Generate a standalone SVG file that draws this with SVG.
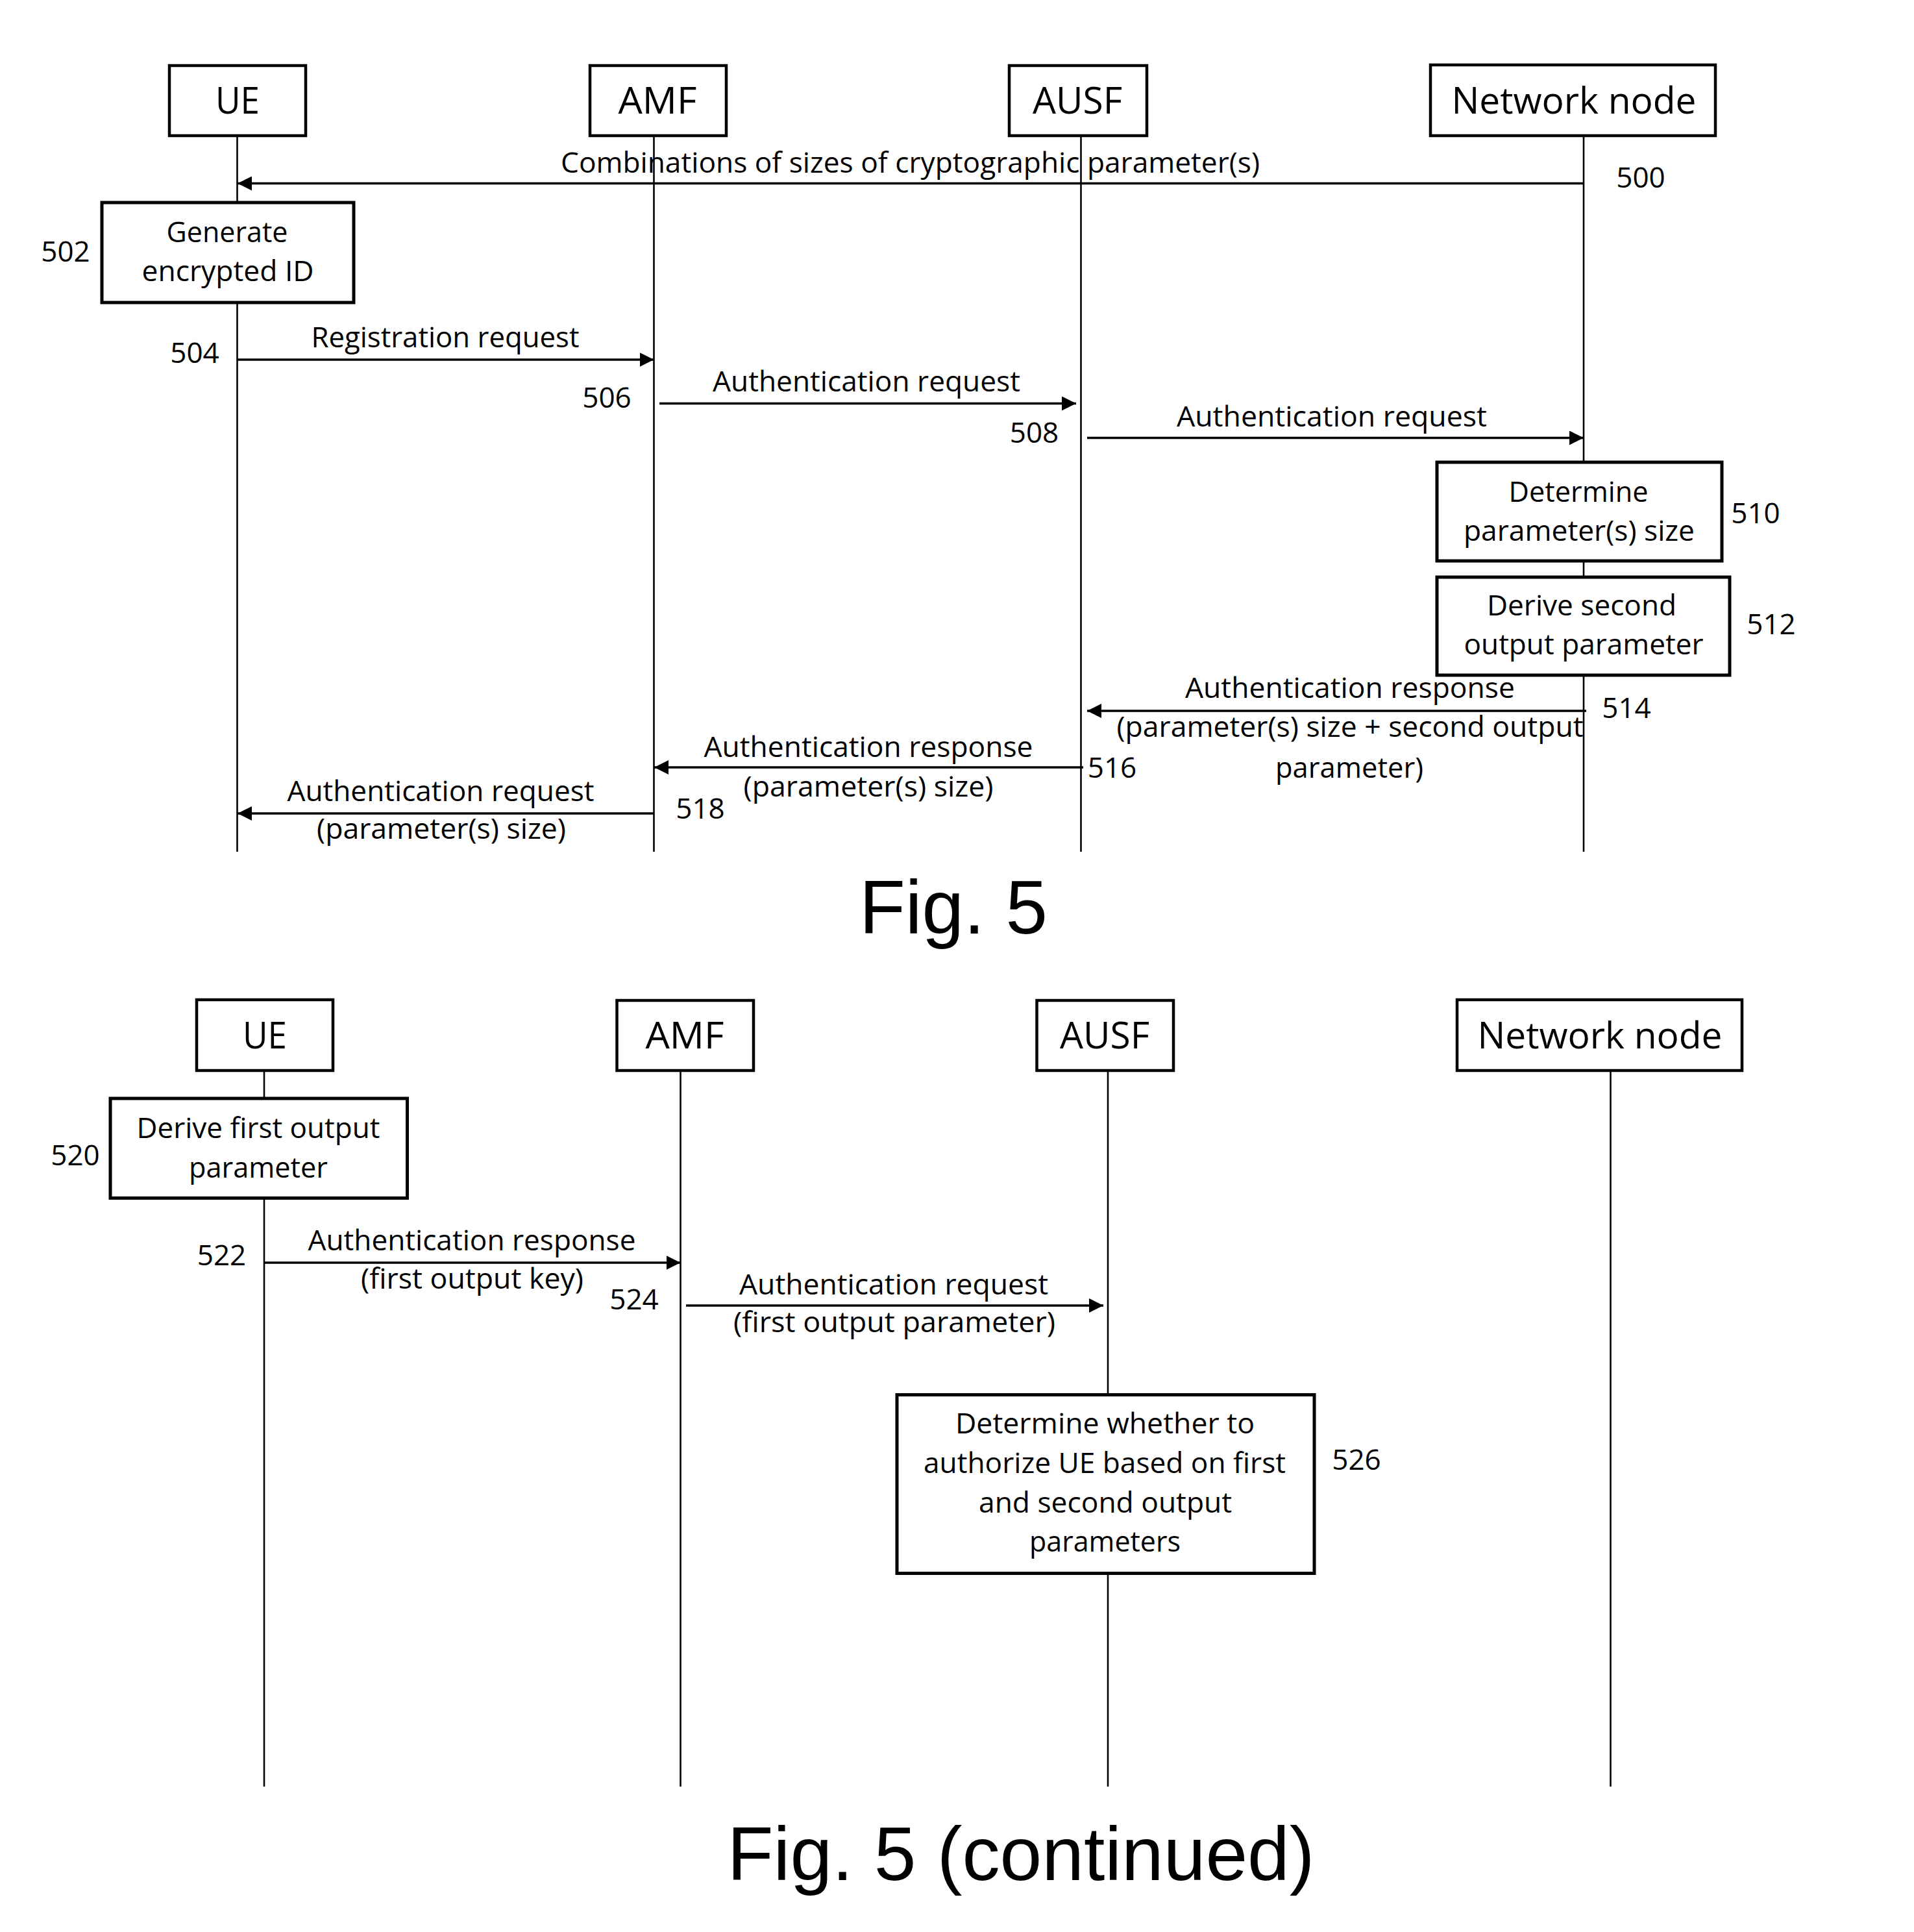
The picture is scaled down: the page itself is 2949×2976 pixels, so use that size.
<svg xmlns="http://www.w3.org/2000/svg" width="2949" height="2976" viewBox="0 0 2949 2976">
<style>
.bg{fill:#fff}
.life{stroke:#000;stroke-width:2.6;fill:none}
.head{fill:#fff;stroke:#000;stroke-width:4.5}
.act{fill:#fff;stroke:#000;stroke-width:5}
.msg{stroke:#000;stroke-width:3.5;fill:none;marker-end:url(#ah)}
.t{font-family:"Open Sans","Noto Sans","Liberation Sans",sans-serif;font-size:44px;fill:#000;text-anchor:middle}
.h{font-family:"Open Sans","Noto Sans","Liberation Sans",sans-serif;font-size:56px;fill:#000;text-anchor:middle}
.n{font-family:"Open Sans","Noto Sans","Liberation Sans",sans-serif;font-size:44px;fill:#000;text-anchor:middle}
.fig{font-family:"Liberation Sans",Arial,sans-serif;font-size:116px;fill:#000;text-anchor:middle}
</style>
<defs>
<marker id="ah" markerUnits="userSpaceOnUse" markerWidth="22" markerHeight="22" refX="22" refY="11" orient="auto">
<path d="M0,0 L22,11 L0,22 z" fill="#000"/>
</marker>
</defs>
<rect class="bg" x="0" y="0" width="2949" height="2976"/>

<!-- ================= Fig. 5 ================= -->
<g id="lifelines-fig5">
<line class="life" x1="365.5" y1="210" x2="365.5" y2="1312"/>
<line class="life" x1="1007.5" y1="210" x2="1007.5" y2="1312"/>
<line class="life" x1="1665.5" y1="210" x2="1665.5" y2="1312"/>
<line class="life" x1="2440" y1="210" x2="2440" y2="1312"/>
</g>

<g id="ue1">
<rect class="head" x="261" y="101" width="210" height="108"/>
<text class="h" x="366" y="175" textLength="68" lengthAdjust="spacingAndGlyphs">UE</text>
</g>
<g id="amf1">
<rect class="head" x="909" y="101" width="210" height="108"/>
<text class="h" x="1013" y="175" textLength="121" lengthAdjust="spacingAndGlyphs">AMF</text>
</g>
<g id="ausf1">
<rect class="head" x="1555" y="101" width="212" height="108"/>
<text class="h" x="1660" y="175" textLength="138" lengthAdjust="spacingAndGlyphs">AUSF</text>
</g>
<g id="nn1">
<rect class="head" x="2204" y="100" width="439" height="109"/>
<text class="h" x="2425" y="175" textLength="377" lengthAdjust="spacingAndGlyphs">Network node</text>
</g>

<g id="step502">
<rect class="act" x="157" y="312" width="388" height="154"/>
<text class="t" x="350" y="373" textLength="187" lengthAdjust="spacingAndGlyphs">Generate</text>
<text class="t" x="351" y="433" textLength="265" lengthAdjust="spacingAndGlyphs">encrypted ID</text>
<text class="n" x="101" y="403">502</text>
</g>

<g id="step510">
<rect class="act" x="2214" y="712" width="439" height="152"/>
<text class="t" x="2432" y="773" textLength="215" lengthAdjust="spacingAndGlyphs">Determine</text>
<text class="t" x="2433" y="833" textLength="356" lengthAdjust="spacingAndGlyphs">parameter(s) size</text>
<text class="n" x="2705" y="806">510</text>
</g>

<g id="step512">
<rect class="act" x="2214" y="889" width="451" height="151"/>
<text class="t" x="2437" y="948" textLength="292" lengthAdjust="spacingAndGlyphs">Derive second</text>
<text class="t" x="2440" y="1008" textLength="369" lengthAdjust="spacingAndGlyphs">output parameter</text>
<text class="n" x="2729" y="977">512</text>
</g>

<g id="connectors-fig5">
<line class="msg" x1="2440" y1="282.5" x2="366" y2="282.5"/>
<line class="msg" x1="365.5" y1="554" x2="1007.5" y2="554"/>
<line class="msg" x1="1016" y1="621.5" x2="1658" y2="621.5"/>
<line class="msg" x1="1675" y1="674.5" x2="2440" y2="674.5"/>
<line class="msg" x1="2444" y1="1095" x2="1675" y2="1095"/>
<line class="msg" x1="1669" y1="1182" x2="1008" y2="1182"/>
<line class="msg" x1="1007" y1="1253" x2="366" y2="1253"/>
</g>

<g id="labels-fig5">
<text class="t" x="1402.5" y="266" textLength="1077" lengthAdjust="spacingAndGlyphs">Combinations of sizes of cryptographic parameter(s)</text>
<text class="n" x="2528" y="289">500</text>
<text class="t" x="686" y="535" textLength="413" lengthAdjust="spacingAndGlyphs">Registration request</text>
<text class="n" x="300" y="559">504</text>
<text class="t" x="1335" y="603" textLength="474" lengthAdjust="spacingAndGlyphs">Authentication request</text>
<text class="n" x="935" y="628">506</text>
<text class="t" x="2052" y="657" textLength="478" lengthAdjust="spacingAndGlyphs">Authentication request</text>
<text class="n" x="1593.5" y="682">508</text>
<text class="t" x="2080" y="1075" textLength="508" lengthAdjust="spacingAndGlyphs">Authentication response</text>
<text class="t" x="2080" y="1135" textLength="719" lengthAdjust="spacingAndGlyphs">(parameter(s) size + second output</text>
<text class="t" x="2079" y="1198" textLength="228" lengthAdjust="spacingAndGlyphs">parameter)</text>
<text class="n" x="2506" y="1106">514</text>
<text class="t" x="1338" y="1166" textLength="507" lengthAdjust="spacingAndGlyphs">Authentication response</text>
<text class="t" x="1338" y="1227" textLength="385" lengthAdjust="spacingAndGlyphs">(parameter(s) size)</text>
<text class="n" x="1713.5" y="1198">516</text>
<text class="t" x="679" y="1234" textLength="473" lengthAdjust="spacingAndGlyphs">Authentication request</text>
<text class="t" x="680" y="1292" textLength="384" lengthAdjust="spacingAndGlyphs">(parameter(s) size)</text>
<text class="n" x="1079" y="1261">518</text>
</g>

<text class="fig" x="1469" y="1438">Fig. 5</text>

<!-- ================= Fig. 5 (continued) ================= -->
<g id="lifelines-fig5c">
<line class="life" x1="407" y1="1649" x2="407" y2="2752"/>
<line class="life" x1="1048.5" y1="1649" x2="1048.5" y2="2752"/>
<line class="life" x1="1707" y1="1649" x2="1707" y2="2752"/>
<line class="life" x1="2481.5" y1="1649" x2="2481.5" y2="2752"/>
</g>

<g id="ue2">
<rect class="head" x="303" y="1540" width="210" height="109"/>
<text class="h" x="408" y="1615" textLength="68" lengthAdjust="spacingAndGlyphs">UE</text>
</g>
<g id="amf2">
<rect class="head" x="950.5" y="1541" width="210.5" height="108"/>
<text class="h" x="1055" y="1615" textLength="121" lengthAdjust="spacingAndGlyphs">AMF</text>
</g>
<g id="ausf2">
<rect class="head" x="1597.5" y="1541" width="210.5" height="108"/>
<text class="h" x="1702" y="1615" textLength="138" lengthAdjust="spacingAndGlyphs">AUSF</text>
</g>
<g id="nn2">
<rect class="head" x="2245" y="1540" width="439" height="109"/>
<text class="h" x="2465" y="1615" textLength="377" lengthAdjust="spacingAndGlyphs">Network node</text>
</g>

<g id="step520">
<rect class="act" x="170" y="1692" width="457.5" height="153.5"/>
<text class="t" x="398" y="1753" textLength="375" lengthAdjust="spacingAndGlyphs">Derive first output</text>
<text class="t" x="398" y="1814" textLength="214" lengthAdjust="spacingAndGlyphs">parameter</text>
<text class="n" x="116" y="1795">520</text>
</g>

<g id="step526">
<rect class="act" x="1382" y="2148.5" width="643" height="275"/>
<text class="t" x="1702.5" y="2208" textLength="461" lengthAdjust="spacingAndGlyphs">Determine whether to</text>
<text class="t" x="1702" y="2269" textLength="558" lengthAdjust="spacingAndGlyphs">authorize UE based on first</text>
<text class="t" x="1703" y="2330" textLength="390" lengthAdjust="spacingAndGlyphs">and second output</text>
<text class="t" x="1702.5" y="2390" textLength="233" lengthAdjust="spacingAndGlyphs">parameters</text>
<text class="n" x="2090" y="2264">526</text>
</g>

<g id="connectors-fig5c">
<line class="msg" x1="407" y1="1945" x2="1048.5" y2="1945"/>
<line class="msg" x1="1057" y1="2011" x2="1700" y2="2011"/>
</g>

<g id="labels-fig5c">
<text class="t" x="727" y="1926" textLength="505" lengthAdjust="spacingAndGlyphs">Authentication response</text>
<text class="t" x="727.5" y="1985" textLength="343" lengthAdjust="spacingAndGlyphs">(first output key)</text>
<text class="n" x="341.5" y="1948.5">522</text>
<text class="t" x="1377" y="1994" textLength="476" lengthAdjust="spacingAndGlyphs">Authentication request</text>
<text class="t" x="1378" y="2052" textLength="496" lengthAdjust="spacingAndGlyphs">(first output parameter)</text>
<text class="n" x="977" y="2017">524</text>
</g>

<text class="fig" x="1573" y="2896" textLength="905" lengthAdjust="spacingAndGlyphs">Fig. 5 (continued)</text>
</svg>
